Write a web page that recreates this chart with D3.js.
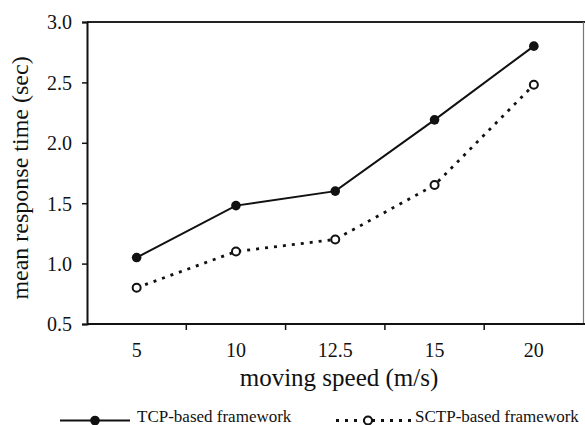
<!DOCTYPE html>
<html><head><meta charset="utf-8">
<script src="https://cdn.jsdelivr.net/npm/d3@7"></script>
<style>body{margin:0;background:#fff}svg{display:block}text{font-family:"Liberation Serif","Times New Roman",serif;fill:#111}</style>
</head><body><svg id="c" width="585" height="425"></svg>
<script>
const categories = ["5", "10", "12.5", "15", "20"];
const tcpValues = [1.05, 1.48, 1.60, 2.19, 2.80];
const sctpValues = [0.80, 1.10, 1.20, 1.65, 2.48];
const yTicks = [0.5, 1.0, 1.5, 2.0, 2.5, 3.0];
const seriesNames = ["TCP-based framework", "SCTP-based framework"];

const svg = d3.select("#c");
const L = 87, R = 583.5, T = 22, B = 324;
const x = d3.scaleBand().domain(categories).range([L, R]);
const y = d3.scaleLinear().domain([0.5, 3.0]).range([B, T]);

// frame top and right
svg.append("line").attr("x1", L).attr("x2", 585).attr("y1", T).attr("y2", T).attr("stroke", "#222").attr("stroke-width", 2);
svg.append("line").attr("x1", R).attr("x2", R).attr("y1", T).attr("y2", B).attr("stroke", "#777").attr("stroke-width", 1.2);

// y axis
const ya = svg.append("g").attr("transform", `translate(${L},0)`)
  .call(d3.axisLeft(y).tickValues(yTicks).tickFormat(d3.format(".1f")).tickSize(5).tickPadding(10));
ya.attr("font-family", null);
ya.select(".domain").attr("stroke", "#111").attr("stroke-width", 2);
ya.selectAll(".tick line").attr("stroke", "#111").attr("stroke-width", 1.5);
ya.selectAll(".tick text").style("font-size", "20px").attr("dy", "0.34em");

// x axis with ticks at band boundaries
const xa = svg.append("g").attr("transform", `translate(0,${B})`)
  .call(d3.axisBottom(x).tickSize(0));
xa.attr("font-family", null);
xa.select(".domain").attr("d", `M${L},0H585`).attr("stroke", "#111").attr("stroke-width", 2);
xa.selectAll(".tick text").style("font-size", "20px").attr("y", 33).attr("dy", null);
const bounds = categories.slice(1).map(c => x(c));
xa.selectAll(".bt").data(bounds).enter().append("line")
  .attr("x1", d => d).attr("x2", d => d).attr("y1", 0).attr("y2", 6)
  .attr("stroke", "#111").attr("stroke-width", 1.5);

const cx = c => x(c) + x.bandwidth() / 2;

// lines
const line = d3.line().x((d, i) => cx(categories[i])).y(d => y(d));
svg.append("path").datum(tcpValues).attr("d", line).attr("fill", "none").attr("stroke", "#111").attr("stroke-width", 2);
svg.append("path").datum(sctpValues).attr("d", line).attr("fill", "none").attr("stroke", "#111").attr("stroke-width", 2.8).attr("stroke-dasharray", "3,6");

svg.selectAll(".tp").data(tcpValues).enter().append("circle")
  .attr("cx", (d, i) => cx(categories[i])).attr("cy", d => y(d)).attr("r", 4.8).attr("fill", "#111");
svg.selectAll(".sp").data(sctpValues).enter().append("circle")
  .attr("cx", (d, i) => cx(categories[i])).attr("cy", d => y(d)).attr("r", 4).attr("fill", "#fff").attr("stroke", "#111").attr("stroke-width", 2);

// axis titles
svg.append("text").attr("x", 339).attr("y", 386).attr("text-anchor", "middle").style("font-size", "25px").text("moving speed (m/s)");
svg.append("text").attr("transform", `translate(28,178) rotate(-90)`).attr("text-anchor", "middle").style("font-size", "24px").text("mean response time (sec)");

// legend
const ly = 420.5;
svg.append("line").attr("x1", 60).attr("x2", 130).attr("y1", ly).attr("y2", ly).attr("stroke", "#111").attr("stroke-width", 2);
svg.append("circle").attr("cx", 95).attr("cy", ly).attr("r", 4.8).attr("fill", "#111");
svg.append("text").attr("x", 137).attr("y", 421.5).style("font-size", "17px").text(seriesNames[0]);
svg.append("line").attr("x1", 336).attr("x2", 413).attr("y1", ly).attr("y2", ly).attr("stroke", "#111").attr("stroke-width", 2.8).attr("stroke-dasharray", "3,6");
svg.append("circle").attr("cx", 368).attr("cy", ly).attr("r", 4).attr("fill", "#fff").attr("stroke", "#111").attr("stroke-width", 2);
svg.append("text").attr("x", 415).attr("y", 421.5).style("font-size", "17px").text(seriesNames[1]);
</script></body></html>
